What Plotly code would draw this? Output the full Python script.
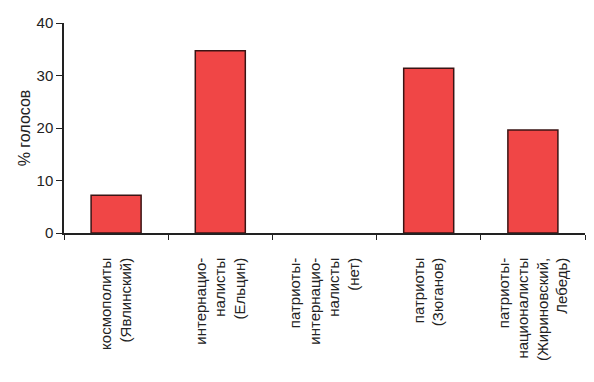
import plotly.graph_objects as go

categories = [
    "космополиты<br>(Явлинский)",
    "интернацио-<br>налисты<br>(Ельцин)",
    "патриоты-<br>интернацио-<br>налисты<br>(нет)",
    "патриоты<br>(Зюганов)",
    "патриоты-<br>националисты<br>(Жириновский,<br>Лебедь)",
]
votes = [7.2, 34.7, 0, 31.4, 19.6]
y_ticks = [0, 10, 20, 30, 40]

outline = [1.5 if v > 0 else 0 for v in votes]

fig = go.Figure()
fig.add_trace(go.Bar(
    x=categories,
    y=votes,
    width=0.48,
    marker=dict(color="#f04646", line=dict(color="#3a1414", width=outline)),
))

font = "Liberation Sans, Arial, sans-serif"
fig.update_layout(
    width=594, height=382,
    margin=dict(l=56, r=17, t=15, b=157, autoexpand=False),
    paper_bgcolor="white", plot_bgcolor="white",
    showlegend=False,
    font=dict(family=font, color="#222"),
)
fig.update_xaxes(
    showline=True, linecolor="#222", linewidth=1.5,
    ticks="outside", ticklen=5, tickcolor="#222", tickwidth=1.2,
    tickson="boundaries", tickangle=-90,
    tickfont=dict(size=15, family=font, color="#222"),
    ticklabelstandoff=17,
    showgrid=False, zeroline=False,
)
fig.update_yaxes(
    range=[0, 40], tickvals=y_ticks,
    showline=True, linecolor="#222", linewidth=1.5,
    ticks="outside", ticklen=6, tickcolor="#222", tickwidth=1.2,
    tickfont=dict(size=15, family=font, color="#222"),
    title=dict(text="% голосов", font=dict(size=16, family=font, color="#222"), standoff=2),
    showgrid=False, zeroline=False,
)

fig.write_html("out.html")
